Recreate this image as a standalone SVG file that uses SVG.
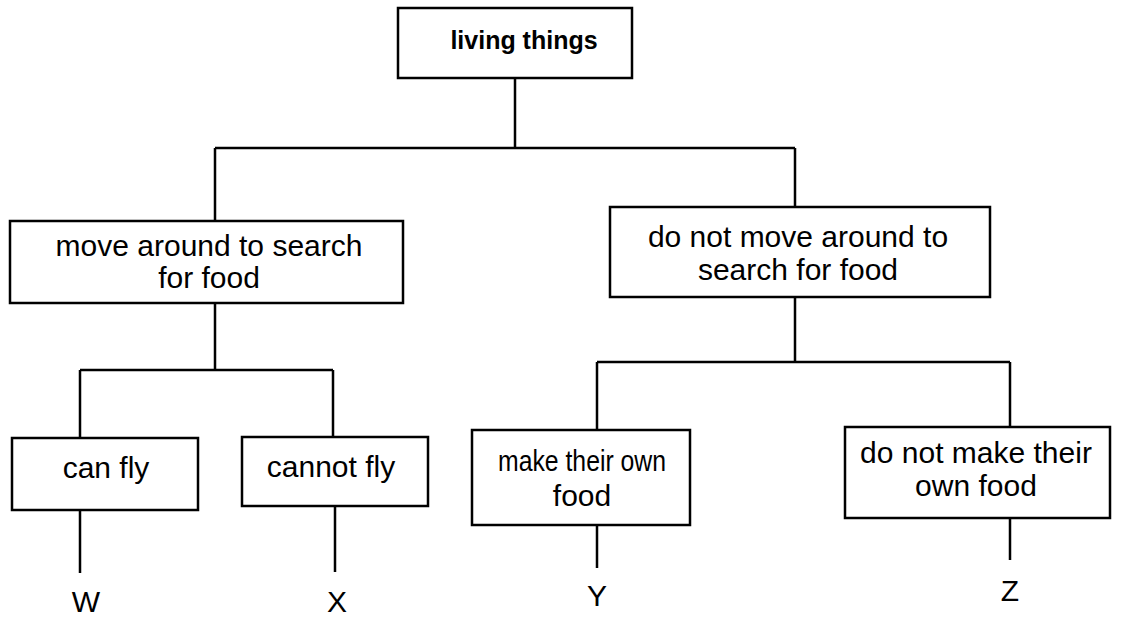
<svg xmlns="http://www.w3.org/2000/svg" width="1124" height="619" viewBox="0 0 1124 619">
<style>
.box{fill:#fff;stroke:#000;stroke-width:2.5}
.t{font-family:"Liberation Sans",Arial,sans-serif;font-size:30px;fill:#000;text-anchor:middle}
.b{font-weight:bold;font-size:25px}
.c{stroke:#000;stroke-width:2.5;fill:none}
</style>
<rect width="1124" height="619" fill="#fff"/>
<g id="connectors">
<path class="c" d="M515 78V148M215 148H795M215 148V221M795 148V207"/>
<path class="c" d="M215 303V370M80 370H333M80 370V438M333 370V437M80 510V573M335 506V572"/>
<path class="c" d="M795 297V362M597 362H1010M597 362V430M1010 362V427M597 525V568M1010 518V560"/>
</g>
<g id="living-things"><rect class="box" x="398" y="8" width="234" height="70"/><text class="t b" x="524" y="49">living things</text></g>
<g id="move"><rect class="box" x="10" y="221" width="393" height="82"/><text class="t" x="209" y="256">move around to search</text><text class="t" x="209" y="288">for food</text></g>
<g id="not-move"><rect class="box" x="610" y="207" width="380" height="90"/><text class="t" x="798" y="247">do not move around to</text><text class="t" x="798" y="280">search for food</text></g>
<g id="can-fly"><rect class="box" x="12" y="438" width="186" height="72"/><text class="t" x="106" y="478">can fly</text></g>
<g id="cannot-fly"><rect class="box" x="242" y="437" width="186" height="69"/><text class="t" x="331" y="477">cannot fly</text></g>
<g id="make-food"><rect class="box" x="472" y="430" width="218" height="95"/><text class="t" x="582" y="471" textLength="168" lengthAdjust="spacingAndGlyphs">make their own</text><text class="t" x="582" y="506">food</text></g>
<g id="not-make-food"><rect class="box" x="845" y="427" width="265" height="91"/><text class="t" x="976" y="463">do not make their</text><text class="t" x="976" y="496">own food</text></g>
<g id="W"><text class="t" x="86" y="612">W</text></g>
<g id="X"><text class="t" x="337" y="612">X</text></g>
<g id="Y"><text class="t" x="597" y="606">Y</text></g>
<g id="Z"><text class="t" x="1010" y="601">Z</text></g>
</svg>
